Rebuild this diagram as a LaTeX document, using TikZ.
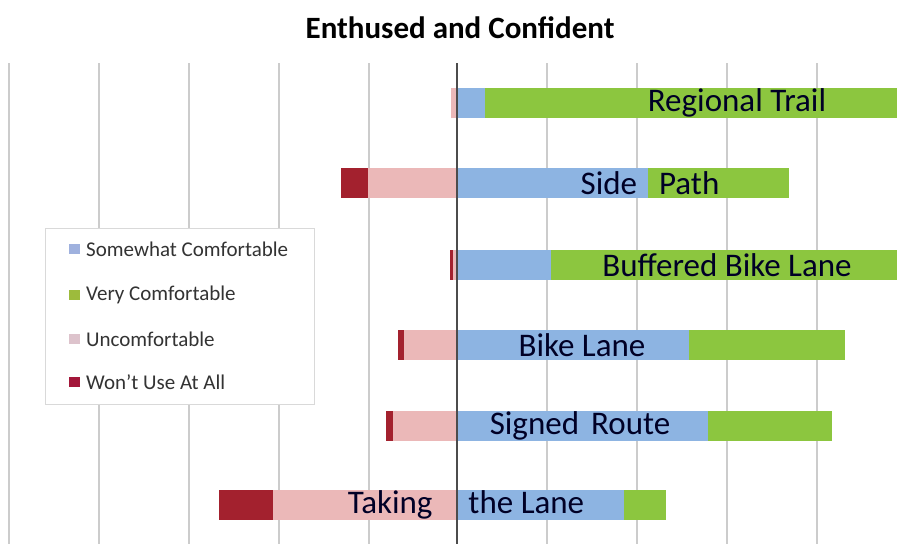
\documentclass[tikz,border=0pt]{standalone}
\usepackage{fontspec}
\setmainfont{Carlito}
\usetikzlibrary{positioning}

\definecolor{somewhat}{HTML}{8DB4E2}
\definecolor{very}{HTML}{8CC63F}
\definecolor{uncomf}{HTML}{EBB8B8}
\definecolor{wont}{HTML}{A3212E}
\definecolor{keysome}{HTML}{9FB1DE}
\definecolor{keyvery}{HTML}{9DBB3C}
\definecolor{keyunc}{HTML}{DDC3CC}
\definecolor{keywont}{HTML}{A3173A}

\begin{document}
\begin{tikzpicture}[
    x=1pt,y=-1pt,
    grid/.style={draw=black!20,line width=1.6pt},
    axis/.style={draw=black!70,line width=1.2pt},
    lbl/.style={font=\fontsize{33}{33}\selectfont,text=black!85!blue,inner sep=0},
    ttl/.style={font=\fontsize{31}{31}\selectfont\bfseries,inner sep=0},
    keytxt/.style={font=\fontsize{21}{21}\selectfont,text=black!80,inner sep=0,anchor=west},
    keybox/.style={draw=black!15,line width=1pt,fill=white}
    ]
    \useasboundingbox (0,0) rectangle (897,544);

    \node [ttl] (title) at (460,28) {Enthused and Confident};

    % grid
    \foreach \x in {9,99,189,279,369,547,637,727,817} {
      \draw [grid] (\x,63) -- (\x,544);
    }

    % bars: y / won't / uncomfortable / somewhat / very
    \foreach \y/\a/\b/\c/\d in {103/451/451/485/897, 183/341/368/648/789,
        265/450/453/551/897, 345/398/404/689/845, 426/386/393/708/832,
        505/219/273/624/666} {
      \fill [wont] (\a,\y-15) rectangle (\b,\y+15);
      \fill [uncomf] (\b,\y-15) rectangle (457,\y+15);
      \fill [somewhat] (457,\y-15) rectangle (\c,\y+15);
      \fill [very] (\c,\y-15) rectangle (\d,\y+15);
    }

    \draw [axis] (457,63) -- (457,544);

    % bar labels
    \node [lbl] (regional) at (737,103) {Regional Trail};
    \node [lbl] (side) at (650,183) {Side\hspace{22pt}Path};
    \node [lbl] (buffered) at (727,265) {Buffered Bike Lane};
    \node [lbl] (bike) at (582,345) {Bike Lane};
    \node [lbl] (signed) at (580,426) {Signed\hspace{12pt}Route};
    \node [lbl] (taking) at (466,505) {Taking\hspace{36pt}the Lane};

    % legend
    \draw [keybox] (45,228) rectangle (314,404);
    \foreach \y/\c/\t [count=\i] in {249/keysome/Somewhat Comfortable,
        295/keyvery/Very Comfortable, 339/keyunc/Uncomfortable,
        382/keywont/Won't Use At All} {
      \fill [\c] (69,\y-5) rectangle (80,\y+5);
      \node [keytxt] (key\i) at (86,\y) {\t};
    }
  \end{tikzpicture}
\end{document}
